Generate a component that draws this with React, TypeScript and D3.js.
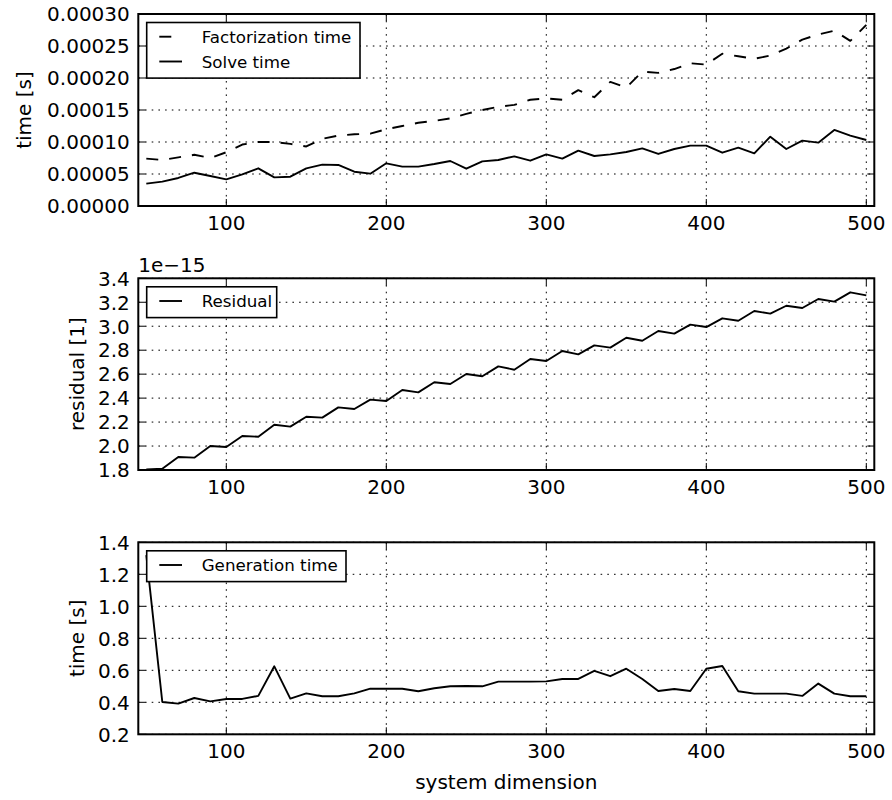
import React from "react";
import * as d3 from "d3";

// ---------------- data ----------------
const dims = [
  50, 60, 70, 80, 90, 100, 110, 120, 130, 140, 150, 160, 170, 180, 190, 200,
  210, 220, 230, 240, 250, 260, 270, 280, 290, 300, 310, 320, 330, 340, 350,
  360, 370, 380, 390, 400, 410, 420, 430, 440, 450, 460, 470, 480, 490, 500,
];

const factorizationTime = [
  7.4e-5, 7.2e-5, 7.6e-5, 8.0e-5, 7.5e-5, 8.4e-5, 9.6e-5, 1.0e-4, 1.0e-4, 9.7e-5,
  9.3e-5, 1.05e-4, 1.1e-4, 1.12e-4, 1.13e-4, 1.2e-4, 1.25e-4, 1.3e-4, 1.33e-4, 1.37e-4,
  1.44e-4, 1.5e-4, 1.55e-4, 1.58e-4, 1.66e-4, 1.68e-4, 1.66e-4, 1.81e-4, 1.7e-4, 1.94e-4,
  1.85e-4, 2.1e-4, 2.08e-4, 2.14e-4, 2.23e-4, 2.21e-4, 2.38e-4, 2.34e-4, 2.3e-4, 2.35e-4,
  2.46e-4, 2.6e-4, 2.68e-4, 2.74e-4, 2.58e-4, 2.83e-4,
];

const solveTime = [
  3.49e-5, 3.8e-5, 4.38e-5, 5.2e-5, 4.69e-5, 4.17e-5, 4.95e-5, 5.89e-5, 4.48e-5, 4.58e-5,
  5.89e-5, 6.46e-5, 6.41e-5, 5.36e-5, 5.05e-5, 6.67e-5, 6.15e-5, 6.15e-5, 6.56e-5, 7.03e-5,
  5.83e-5, 6.98e-5, 7.19e-5, 7.76e-5, 7.08e-5, 8.07e-5, 7.4e-5, 8.65e-5, 7.81e-5, 8.07e-5,
  8.44e-5, 9.01e-5, 8.13e-5, 8.91e-5, 9.43e-5, 9.43e-5, 8.33e-5, 9.11e-5, 8.23e-5, 1.083e-4,
  8.91e-5, 1.021e-4, 9.9e-5, 1.188e-4, 1.099e-4, 1.031e-4,
];

const residual = [
  1.805e-15, 1.81e-15, 1.908e-15, 1.903e-15, 2.0e-15, 1.992e-15, 2.084e-15, 2.078e-15,
  2.178e-15, 2.162e-15, 2.245e-15, 2.237e-15, 2.323e-15, 2.309e-15, 2.387e-15, 2.376e-15,
  2.468e-15, 2.448e-15, 2.532e-15, 2.518e-15, 2.601e-15, 2.582e-15, 2.665e-15, 2.637e-15,
  2.726e-15, 2.71e-15, 2.793e-15, 2.765e-15, 2.84e-15, 2.821e-15, 2.904e-15, 2.879e-15,
  2.96e-15, 2.938e-15, 3.013e-15, 2.993e-15, 3.066e-15, 3.046e-15, 3.127e-15, 3.105e-15,
  3.171e-15, 3.152e-15, 3.227e-15, 3.205e-15, 3.283e-15, 3.258e-15,
];

const generationTime = [
  1.32, 0.402, 0.392, 0.427, 0.406, 0.421, 0.421, 0.44, 0.625, 0.423,
  0.456, 0.438, 0.438, 0.456, 0.485, 0.485, 0.485, 0.469, 0.488, 0.5,
  0.502, 0.5, 0.529, 0.529, 0.529, 0.531, 0.546, 0.546, 0.596, 0.563,
  0.61, 0.546, 0.471, 0.483, 0.471, 0.61, 0.627, 0.469, 0.454, 0.454,
  0.454, 0.44, 0.517, 0.454, 0.438, 0.438,
];

const xTicks = [100, 200, 300, 400, 500];
const timeTicks = [0, 0.00005, 0.0001, 0.00015, 0.0002, 0.00025, 0.0003];
const residualTicks = [1.8e-15, 2.0e-15, 2.2e-15, 2.4e-15, 2.6e-15, 2.8e-15, 3.0e-15, 3.2e-15, 3.4e-15];
const generationTicks = [0.2, 0.4, 0.6, 0.8, 1.0, 1.2, 1.4];

// ---------------- layout ----------------
const W = 892;
const H = 800;
const LEFT = 138.3;
const RIGHT = 874.3;
const FONT = "'DejaVu Sans', sans-serif";
const TICK_FS = 20;
const LEG_FS = 16.7;
const DASH = "12,11";

const x = d3.scaleLinear().domain([45, 505]).range([LEFT, RIGHT]);

type Series = { values: number[]; dash?: string; label: string };

type PanelProps = {
  top: number;
  bottom: number;
  yDomain: [number, number];
  yTicks: number[];
  yFormat: (v: number) => string;
  series: Series[];
  legendWidth: number;
  ylabel: string;
  ylabelX: number;
  offsetText?: string;
};

function Panel(p: PanelProps) {
  const y = d3.scaleLinear().domain(p.yDomain).range([p.bottom, p.top]);
  const tickLen = 7;
  const legX = 146.7;
  const legTop = p.top + 8.5;
  const rowH = 24.8;
  const legH = p.series.length * rowH + 6;
  return (
    <g>
      {/* grid */}
      <g stroke="#000" strokeWidth={1} strokeDasharray="1.6,5.1" fill="none">
        {xTicks.map((t) => (
          <line key={"gx" + t} x1={x(t)} x2={x(t)} y1={p.top} y2={p.bottom} />
        ))}
        {p.yTicks.map((t, i) => (
          <line key={"gy" + i} x1={LEFT} x2={RIGHT} y1={y(t)} y2={y(t)} />
        ))}
      </g>
      {/* data lines */}
      {p.series.map((s, i) => {
        const line = d3
          .line<number>()
          .x((_, j) => x(dims[j]))
          .y((v) => y(v));
        return (
          <path
            key={"s" + i}
            d={line(s.values) || ""}
            fill="none"
            stroke="#000"
            strokeWidth={1.9}
            strokeDasharray={s.dash}
            strokeLinejoin="round"
          />
        );
      })}
      {/* ticks */}
      <g stroke="#000" strokeWidth={1}>
        {xTicks.map((t) => (
          <g key={"tx" + t}>
            <line x1={x(t)} x2={x(t)} y1={p.bottom} y2={p.bottom - tickLen} />
            <line x1={x(t)} x2={x(t)} y1={p.top} y2={p.top + tickLen} />
          </g>
        ))}
        {p.yTicks.map((t, i) => (
          <g key={"ty" + i}>
            <line x1={LEFT} x2={LEFT + tickLen} y1={y(t)} y2={y(t)} />
            <line x1={RIGHT} x2={RIGHT - tickLen} y1={y(t)} y2={y(t)} />
          </g>
        ))}
      </g>
      {/* spines */}
      <rect
        x={LEFT}
        y={p.top}
        width={RIGHT - LEFT}
        height={p.bottom - p.top}
        fill="none"
        stroke="#000"
        strokeWidth={2}
      />
      {/* tick labels */}
      <g fontFamily={FONT} fontSize={TICK_FS} fill="#000">
        {xTicks.map((t) => (
          <text key={"lx" + t} x={x(t)} y={p.bottom + 23.5} textAnchor="middle">
            {String(t)}
          </text>
        ))}
        {p.yTicks.map((t, i) => (
          <text key={"ly" + i} x={LEFT - 8.5} y={y(t) + 7.3} textAnchor="end">
            {p.yFormat(t)}
          </text>
        ))}
        {p.offsetText && (
          <text x={LEFT} y={p.top - 6.6} textAnchor="start">
            {p.offsetText}
          </text>
        )}
        <text
          transform={`translate(${p.ylabelX},${(p.top + p.bottom) / 2}) rotate(-90)`}
          textAnchor="middle"
        >
          {p.ylabel}
        </text>
      </g>
      {/* legend */}
      <g>
        <rect
          x={legX}
          y={legTop}
          width={p.legendWidth}
          height={legH}
          fill="#fff"
          stroke="#000"
          strokeWidth={1.6}
        />
        {p.series.map((s, i) => {
          const cy = legTop + 14.2 + i * rowH;
          return (
            <g key={"lg" + i}>
              <line
                x1={159.3}
                x2={182}
                y1={cy}
                y2={cy}
                stroke="#000"
                strokeWidth={1.9}
                strokeDasharray={s.dash}
              />
              <text
                x={201.7}
                y={cy + 6.4}
                fontFamily={FONT}
                fontSize={LEG_FS}
                fill="#000"
              >
                {s.label}
              </text>
            </g>
          );
        })}
      </g>
    </g>
  );
}

export default function App() {
  return (
    <svg
      width={W}
      height={H}
      viewBox={`0 0 ${W} ${H}`}
      style={{ position: "absolute", left: 0, top: 0, background: "#fff" }}
    >
      <rect x={0} y={0} width={W} height={H} fill="#fff" />
      <Panel
        top={14}
        bottom={206}
        yDomain={[0, 0.0003]}
        yTicks={timeTicks}
        yFormat={d3.format(".5f")}
        series={[
          { values: factorizationTime, dash: DASH, label: "Factorization time" },
          { values: solveTime, label: "Solve time" },
        ]}
        legendWidth={213.3}
        ylabel="time [s]"
        ylabelX={31}
      />
      <Panel
        top={278.3}
        bottom={470}
        yDomain={[1.8e-15, 3.4e-15]}
        yTicks={residualTicks}
        yFormat={(v) => (v / 1e-15).toFixed(1)}
        series={[{ values: residual, label: "Residual" }]}
        legendWidth={130}
        ylabel="residual [1]"
        ylabelX={84}
        offsetText="1e−15"
      />
      <Panel
        top={542.3}
        bottom={734.3}
        yDomain={[0.2, 1.4]}
        yTicks={generationTicks}
        yFormat={d3.format(".1f")}
        series={[{ values: generationTime, label: "Generation time" }]}
        legendWidth={199.3}
        ylabel="time [s]"
        ylabelX={84}
      />
      <text
        x={(LEFT + RIGHT) / 2}
        y={789}
        textAnchor="middle"
        fontFamily={FONT}
        fontSize={TICK_FS}
        fill="#000"
      >
        system dimension
      </text>
    </svg>
  );
}
